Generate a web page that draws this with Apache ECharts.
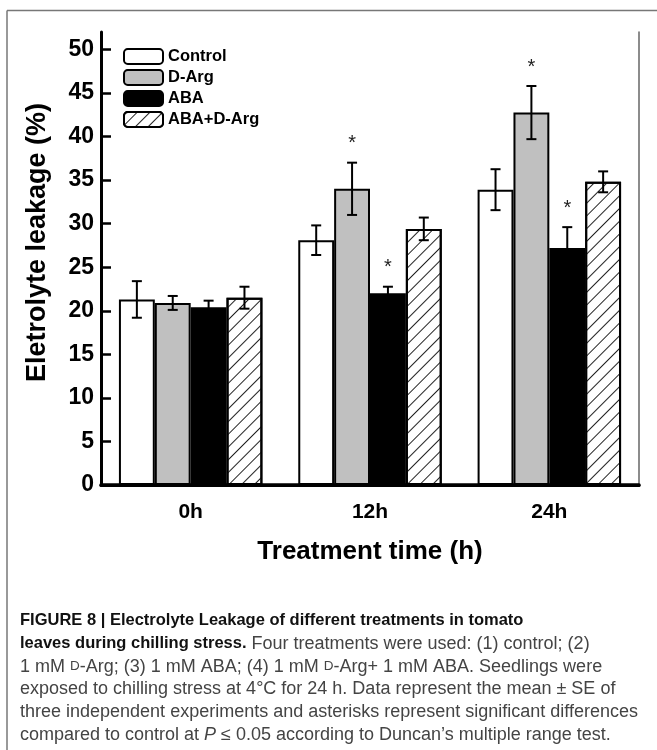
<!DOCTYPE html>
<html>
<head>
<meta charset="utf-8">
<script src="https://cdn.jsdelivr.net/npm/echarts@6/dist/echarts.min.js"></script>
<style>
  html, body { margin: 0; padding: 0; background: #fff; }
  #chart { width: 657px; height: 750px; }
</style>
</head>
<body>
<div id="chart"></div>
<script>
// Electrolyte leakage (%) of tomato leaves under chilling stress
const categories = ['0h', '12h', '24h'];
const seriesNames = ['Control', 'D-Arg', 'ABA', 'ABA+D-Arg'];

const controlMean = [21.3, 28.1, 33.9];
const controlSE   = [2.1, 1.7, 2.35];
const dArgMean    = [20.9, 34.0, 42.75];
const dArgSE      = [0.8, 3.0, 3.05];
const abaMean     = [20.4, 22.0, 27.2];
const abaSE       = [0.76, 0.76, 2.4];
const abaDArgMean = [21.5, 29.4, 34.8];
const abaDArgSE   = [1.26, 1.3, 1.2];

// significant difference vs control (P <= 0.05)
const controlSig = [false, false, false];
const dArgSig    = [false, true, true];
const abaSig     = [false, true, true];
const abaDArgSig = [false, false, false];

const yTicks = [0, 5, 10, 15, 20, 25, 30, 35, 40, 45, 50];

const captionLines = [
  '{b|FIGURE 8 | Electrolyte Leakage of different treatments in tomato}',
  '{b|leaves during chilling stress.}{n| Four treatments were used: (1) control; (2)}',
  '{n|1 mM }{sc|D}{n|-Arg; (3) 1 mM ABA; (4) 1 mM }{sc|D}{n|-Arg+ 1 mM ABA. Seedlings were}',
  '{n|exposed to chilling stress at 4°C for 24 h. Data represent the mean ± SE of}',
  '{n|three independent experiments and asterisks represent significant differences}',
  '{n|compared to control at }{i|P}{n| ≤ 0.05 according to Duncan’s multiple range test.}'
];

const means = [controlMean, dArgMean, abaMean, abaDArgMean];
const errs  = [controlSE, dArgSE, abaSE, abaDArgSE];
const sigs  = [controlSig, dArgSig, abaSig, abaDArgSig];

const FONT = '"Liberation Sans", Arial, Helvetica, sans-serif';
const CAT_GAP = 0.2;

const hatch = {
  symbol: 'rect',
  symbolSize: 1,
  color: '#222',
  dashArrayX: [1, 0],
  dashArrayY: [1, 8],
  rotation: -Math.PI / 4
};

const fills = [
  { color: '#ffffff' },
  { color: '#c0c0c0' },
  { color: '#000000' },
  { color: '#ffffff', decal: hatch }
];

const barSeries = seriesNames.map((name, k) => ({
  name: name,
  type: 'bar',
  data: means[k],
  barGap: '0%',
  barCategoryGap: (CAT_GAP * 100) + '%',
  itemStyle: Object.assign({ borderColor: '#000', borderWidth: 2 }, fills[k]),
  emphasis: { disabled: true },
  z: 2
}));

// whiskers with caps, plus asterisk for significant bars
const errorSeries = seriesNames.map((name, k) => ({
  name: name + ' SE',
  type: 'custom',
  z: 5,
  silent: true,
  encode: { x: 0, y: 1 },
  data: categories.map((c, i) => [i, means[k][i], errs[k][i], sigs[k][i] ? 1 : 0]),
  renderItem: function (params, api) {
    const cat = api.value(0);
    const m = api.value(1);
    const e = api.value(2);
    const sig = api.value(3);
    const band = api.size([1, 0])[0];
    const bw = band * (1 - CAT_GAP) / seriesNames.length;
    const cx = api.coord([cat, m])[0] + (k - (seriesNames.length - 1) / 2) * bw;
    const yTop = api.coord([cat, m + e])[1];
    const yBot = api.coord([cat, m - e])[1];
    const cap = 5;
    const st = { stroke: '#000', lineWidth: 2 };
    const children = [
      { type: 'line', shape: { x1: cx, y1: yTop, x2: cx, y2: yBot }, style: st },
      { type: 'line', shape: { x1: cx - cap, y1: yTop, x2: cx + cap, y2: yTop }, style: st },
      { type: 'line', shape: { x1: cx - cap, y1: yBot, x2: cx + cap, y2: yBot }, style: st }
    ];
    if (sig) {
      children.push({
        type: 'text',
        style: {
          text: '*', x: cx, y: yTop - 19,
          align: 'center', verticalAlign: 'middle',
          font: '20px ' + FONT, fill: '#222'
        }
      });
    }
    return { type: 'group', children: children };
  }
}));

const captionGraphics = captionLines.map((line, i) => ({
  type: 'text',
  left: 20,
  top: 612 + i * 22.8,
  silent: true,
  style: {
    text: line,
    rich: {
      b:  { fontFamily: FONT, fontSize: 16.5, fontWeight: 'bold', fill: '#111' },
      n:  { fontFamily: FONT, fontSize: 18, fill: '#444' },
      sc: { fontFamily: FONT, fontSize: 13.5, fill: '#444' },
      i:  { fontFamily: FONT, fontSize: 18, fontStyle: 'italic', fill: '#444' }
    }
  }
}));

const chart = echarts.init(document.getElementById('chart'), null, { renderer: 'canvas' });

chart.setOption({
  backgroundColor: '#fff',
  animation: false,
  grid: { left: 101, top: 32, width: 538, height: 453, containLabel: false },
  legend: {
    data: seriesNames,
    orient: 'vertical',
    left: 123,
    top: 48,
    padding: 0,
    itemWidth: 39,
    itemHeight: 15,
    itemGap: 4,
    selectedMode: false,
    textStyle: { fontFamily: FONT, fontSize: 16.5, fontWeight: 'bold', color: '#000' }
  },
  xAxis: [{
    type: 'category',
    data: categories,
    axisLine: { lineStyle: { color: '#000', width: 3 } },
    axisTick: { show: false },
    axisLabel: { margin: 17, fontFamily: FONT, fontSize: 21, fontWeight: 'bold', color: '#000' },
    name: 'Treatment time (h)',
    nameLocation: 'middle',
    nameGap: 54,
    nameTextStyle: { fontFamily: FONT, fontSize: 26, fontWeight: 'bold', color: '#000' }
  }, {
    type: 'category',
    data: categories,
    position: 'top',
    axisLine: { lineStyle: { color: '#000', width: 3.5 } },
    axisTick: { show: false },
    axisLabel: { show: false }
  }],
  yAxis: [{
    type: 'value',
    min: 0,
    max: 52,
    interval: 5,
    splitLine: { show: false },
    axisLine: { show: true, lineStyle: { color: '#000', width: 3 } },
    axisTick: { show: true, inside: true, length: 10, customValues: yTicks, lineStyle: { color: '#000', width: 2.5 } },
    axisLabel: { margin: 7, customValues: yTicks, fontFamily: FONT, fontSize: 23, fontWeight: 'bold', color: '#000' },
    name: 'Eletrolyte leakage (%)',
    nameLocation: 'middle',
    nameGap: 50,
    nameTextStyle: { fontFamily: FONT, fontSize: 27, fontWeight: 'bold', color: '#000', padding: [0, 0, 0, 32] }
  }, {
    type: 'value',
    min: 0,
    max: 52,
    position: 'right',
    splitLine: { show: false },
    axisLine: { show: true, lineStyle: { color: '#666', width: 1.5 } },
    axisTick: { show: false },
    axisLabel: { show: false }
  }],
  series: barSeries.concat(errorSeries),
  graphic: [
    { type: 'line', silent: true, shape: { x1: 7, y1: 10.5, x2: 657, y2: 10.5 }, style: { stroke: '#777', lineWidth: 1.5 } },
    { type: 'line', silent: true, shape: { x1: 7, y1: 10.5, x2: 7, y2: 750 }, style: { stroke: '#777', lineWidth: 1.5 } }
  ].concat(captionGraphics)
});
</script>
</body>
</html>
